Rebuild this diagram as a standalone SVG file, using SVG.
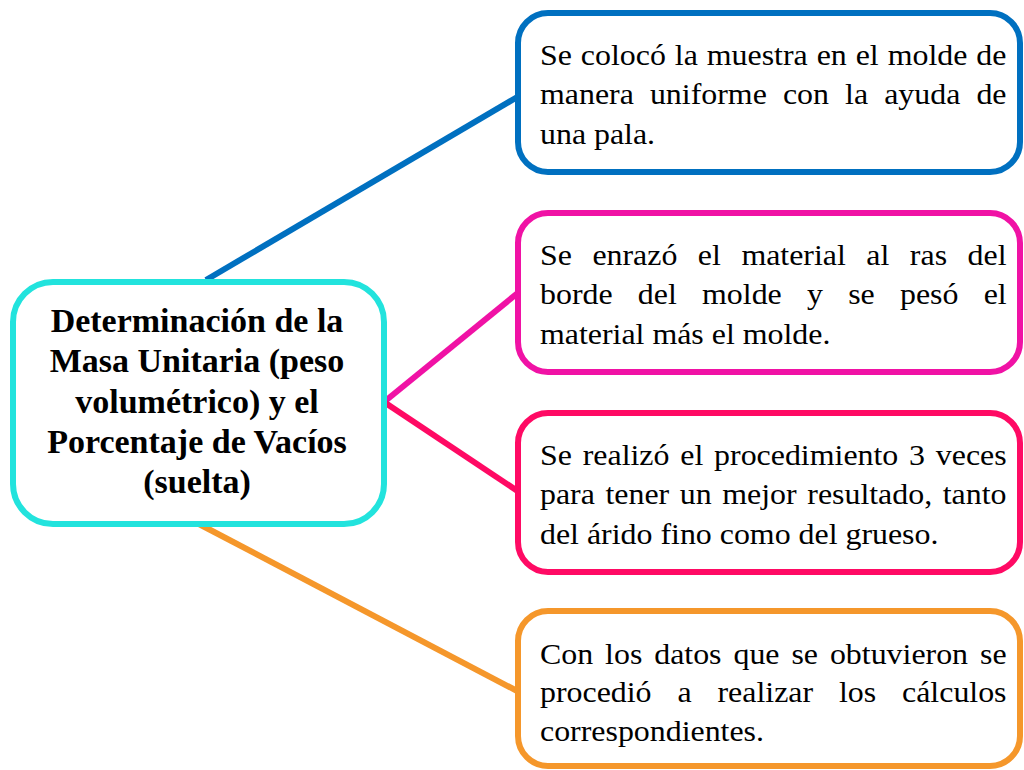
<svg xmlns="http://www.w3.org/2000/svg" width="1024" height="770" viewBox="0 0 1024 770">
<style>
.box{fill:#ffffff;stroke-width:6}
.conn{fill:none;stroke-width:6}
.t{font-family:"Liberation Serif","Times New Roman",serif;font-size:29px;fill:#000}
.c{font-family:"Liberation Serif","Times New Roman",serif;font-size:34px;font-weight:bold;fill:#000;text-anchor:middle}
</style>
<rect x="0" y="0" width="1024" height="770" fill="#ffffff"/>
<g id="connectors">
<line class="conn" x1="206" y1="280" x2="519" y2="96" stroke="#0070C0"/>
<line class="conn" x1="384" y1="402" x2="519" y2="292" stroke="#F012A5"/>
<line class="conn" x1="384" y1="402" x2="519" y2="492" stroke="#FF0A64"/>
<line class="conn" x1="197" y1="523" x2="519" y2="692" stroke="#F5972B"/>
</g>
<g id="central">
<rect class="box" x="13" y="282" width="371" height="242" rx="40" stroke="#22E3DD"/>
<text class="c" x="197" y="332">Determinación de la</text>
<text class="c" x="197" y="372">Masa Unitaria (peso</text>
<text class="c" x="197" y="413">volumétrico) y el</text>
<text class="c" x="197" y="453">Porcentaje de Vacíos</text>
<text class="c" x="197" y="493">(suelta)</text>
</g>
<g id="n1">
<rect class="box" x="518" y="13" width="502" height="159" rx="30" stroke="#0070C0"/>
<g transform="translate(540,0) scale(1.1,1)">
<text class="t" x="0" y="65" word-spacing="0.9">Se colocó la muestra en el molde de</text>
<text class="t" x="0" y="104" word-spacing="7.4">manera uniforme con la ayuda de</text>
<text class="t" x="0" y="144">una pala.</text>
</g>
</g>
<g id="n2">
<rect class="box" x="518" y="213" width="502" height="159" rx="30" stroke="#F012A5"/>
<g transform="translate(540,0) scale(1.1,1)">
<text class="t" x="0" y="265" word-spacing="11.4">Se enrazó el material al ras del</text>
<text class="t" x="0" y="304" word-spacing="15.7">borde del molde y se pesó el</text>
<text class="t" x="0" y="344">material más el molde.</text>
</g>
</g>
<g id="n3">
<rect class="box" x="518" y="413" width="502" height="159" rx="30" stroke="#FF0A64"/>
<g transform="translate(540,0) scale(1.1,1)">
<text class="t" x="0" y="465" word-spacing="2.6">Se realizó el procedimiento 3 veces</text>
<text class="t" x="0" y="504" word-spacing="2.4">para tener un mejor resultado, tanto</text>
<text class="t" x="0" y="544">del árido fino como del grueso.</text>
</g>
</g>
<g id="n4">
<rect class="box" x="518" y="611" width="502" height="155" rx="30" stroke="#F5972B"/>
<g transform="translate(540,0) scale(1.1,1)">
<text class="t" x="0" y="664" word-spacing="3.6">Con los datos que se obtuvieron se</text>
<text class="t" x="0" y="702" word-spacing="16.3">procedió a realizar los cálculos</text>
<text class="t" x="0" y="741">correspondientes.</text>
</g>
</g>
</svg>
